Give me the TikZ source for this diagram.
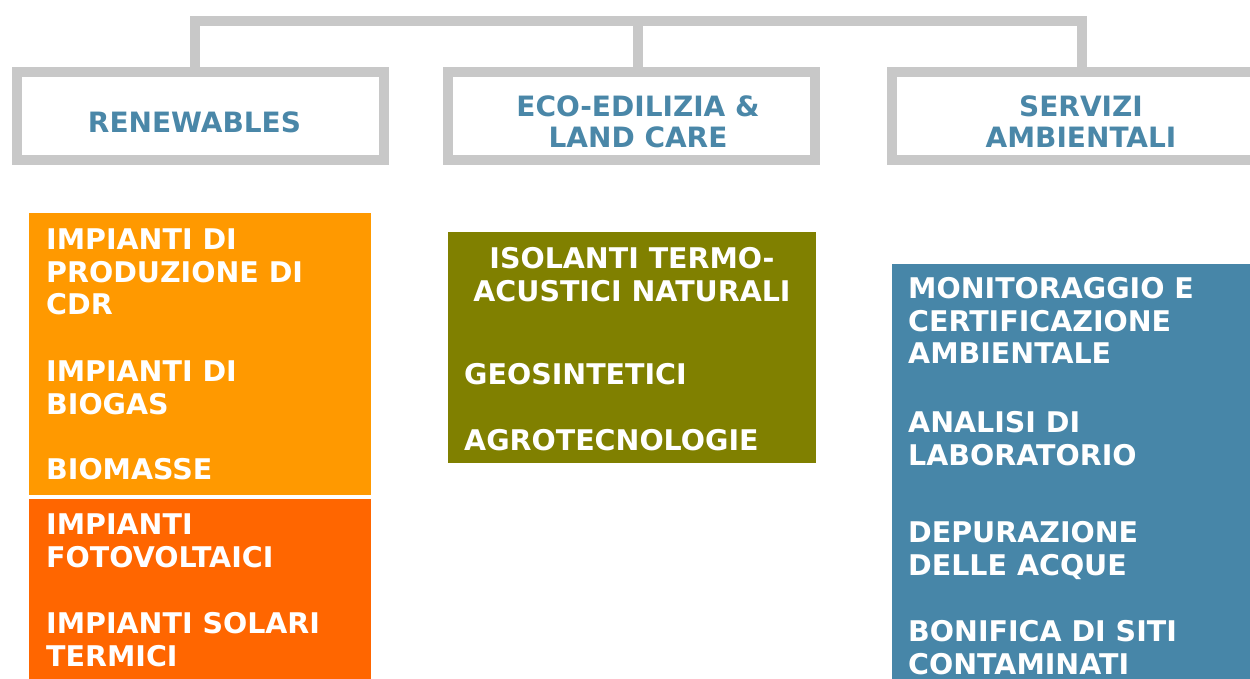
\documentclass[tikz,border=0pt]{standalone}
\usepackage{fontspec}
\setmainfont{DejaVu Sans}
\definecolor{gline}{HTML}{C8C8C8}
\definecolor{htext}{HTML}{4A87A8}
\definecolor{orA}{HTML}{FF9900}
\definecolor{orB}{HTML}{FF6600}
\definecolor{olv}{HTML}{808000}
\definecolor{blu}{HTML}{4786A8}
\newcommand{\bigfont}{\fontsize{28.5}{33}\selectfont\bfseries}
\newcommand{\headfont}{\fontsize{28}{31}\selectfont\bfseries}
\begin{document}
\begin{tikzpicture}[x=1pt,y=-1pt,
  hbox/.style={draw=gline, line width=10pt, line join=miter, rectangle, inner sep=0pt, outer sep=0pt, fill=white},
  conn/.style={draw=gline, line width=10pt, line join=miter},
  fbox/.style={rectangle, inner sep=0pt, outer sep=0pt, anchor=north west},
  htxt/.style={text=htext, inner sep=0pt, anchor=base, font=\headfont},
  itm/.style={text=white, inner sep=0pt, anchor=base west, font=\bigfont},
  itmc/.style={text=white, inner sep=0pt, anchor=base, font=\bigfont}]
\useasboundingbox (0,0) rectangle (1250,679);

% junction points of the connector bar
\coordinate (j1) at (194.5,21);
\coordinate (j2) at (637.7,21);
\coordinate (j3) at (1082,21);

% header boxes
\node[hbox, minimum width=367pt, minimum height=88pt] (b1) at (200.5,116) {};
\node[hbox, minimum width=367pt, minimum height=88pt] (b2) at (631.5,116) {};
\node[hbox, minimum width=370pt, minimum height=88pt] (b3) at (1077,116) {};

\draw[conn] (b1.north -| j1) -- (j1) -- (j3) -- (b3.north -| j3);
\draw[conn] (j2) -- (b2.north -| j2);

% header labels
\node[htxt] (t1) at (194.5,133) {RENEWABLES};
\node[htxt] (t2) at (638,117) {\begin{tabular}[t]{@{}c@{}}ECO-EDILIZIA \&\\LAND CARE\end{tabular}};
\node[htxt] (t3) at (1081,117) {\begin{tabular}[t]{@{}c@{}}SERVIZI\\AMBIENTALI\end{tabular}};

% coloured boxes
\node[fbox, fill=orA, minimum width=342pt, minimum height=282pt] (o1) at (29,213) {};
\node[fbox, fill=orB, minimum width=342pt, minimum height=190pt] (o2) at (29,499) {};
\node[fbox, fill=olv, minimum width=368pt, minimum height=231pt] (g1) at (448,232) {};
\node[fbox, fill=blu, minimum width=370pt, minimum height=430pt] (s1) at (892,264) {};

% renewables items
\node[itm] (r1) at (46,249) {\begin{tabular}[t]{@{}l@{}}IMPIANTI DI\\PRODUZIONE DI\\CDR\end{tabular}};
\node[itm] (r2) at (46,381) {\begin{tabular}[t]{@{}l@{}}IMPIANTI DI\\BIOGAS\end{tabular}};
\node[itm] (r3) at (46,479) {BIOMASSE};
\node[itm] (r4) at (46,534) {\begin{tabular}[t]{@{}l@{}}IMPIANTI\\FOTOVOLTAICI\end{tabular}};
\node[itm] (r5) at (46,633) {\begin{tabular}[t]{@{}l@{}}IMPIANTI SOLARI\\TERMICI\end{tabular}};

% eco-edilizia items
\node[itmc] (e1) at (632,268) {\begin{tabular}[t]{@{}c@{}}ISOLANTI TERMO-\\ACUSTICI NATURALI\end{tabular}};
\node[itm] (e2) at (464,384) {GEOSINTETICI};
\node[itm] (e3) at (464,450) {AGROTECNOLOGIE};

% servizi items
\node[itm] (s2) at (908,298) {\begin{tabular}[t]{@{}l@{}}MONITORAGGIO E\\CERTIFICAZIONE\\AMBIENTALE\end{tabular}};
\node[itm] (s3) at (908,432) {\begin{tabular}[t]{@{}l@{}}ANALISI DI\\LABORATORIO\end{tabular}};
\node[itm] (s4) at (908,542) {\begin{tabular}[t]{@{}l@{}}DEPURAZIONE\\DELLE ACQUE\end{tabular}};
\node[itm] (s5) at (908,641) {\begin{tabular}[t]{@{}l@{}}BONIFICA DI SITI\\CONTAMINATI\end{tabular}};
\end{tikzpicture}
\end{document}
